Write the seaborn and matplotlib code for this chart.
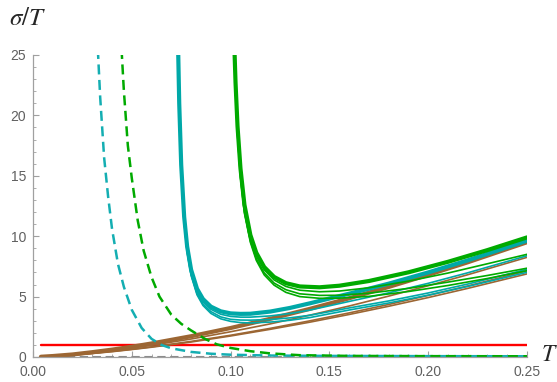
import matplotlib
matplotlib.use("Agg")
import matplotlib.pyplot as plt
import seaborn as sns
from matplotlib.ticker import MultipleLocator

# valores (sigma/T contra T)
T_marrom = [0.004, 0.01, 0.02, 0.03, 0.04, 0.05, 0.06, 0.08, 0.10, 0.12, 0.14, 0.16, 0.18, 0.20, 0.22, 0.25]
marrom_1 = [0.02, 0.08, 0.21, 0.40, 0.61, 0.85, 1.12, 1.72, 2.40, 3.16, 3.98, 4.86, 5.80, 6.80, 7.84, 9.50]
marrom_2 = [0.02, 0.07, 0.19, 0.34, 0.53, 0.74, 0.97, 1.49, 2.09, 2.74, 3.46, 4.22, 5.04, 5.90, 6.81, 8.25]
marrom_3 = [0.01, 0.06, 0.16, 0.30, 0.46, 0.64, 0.84, 1.29, 1.80, 2.37, 2.99, 3.65, 4.35, 5.10, 5.88, 7.13]
marrom_4 = [0.01, 0.06, 0.16, 0.29, 0.44, 0.62, 0.81, 1.24, 1.74, 2.29, 2.88, 3.52, 4.20, 4.92, 5.68, 6.88]

T_ciano = [0.0734, 0.0740, 0.0750, 0.0765, 0.078, 0.080, 0.083, 0.086, 0.090, 0.095, 0.100,
           0.105, 0.11, 0.12, 0.13, 0.14, 0.16, 0.18, 0.20, 0.22, 0.25]
ciano_1 = [25.9, 21.0, 15.9, 11.6, 9.15, 7.23, 5.65, 4.80, 4.17, 3.78, 3.61,
           3.57, 3.58, 3.76, 4.06, 4.44, 5.24, 6.07, 7.00, 8.00, 9.63]
ciano_2 = [25.7, 20.8, 15.7, 11.4, 8.93, 7.00, 5.43, 4.58, 3.95, 3.54, 3.36,
           3.30, 3.30, 3.40, 3.60, 3.88, 4.60, 5.31, 6.10, 6.97, 8.38]
ciano_3 = [25.5, 20.7, 15.5, 11.2, 8.73, 6.82, 5.24, 4.40, 3.76, 3.32, 3.12,
           3.06, 3.05, 3.10, 3.24, 3.45, 4.06, 4.64, 5.30, 6.04, 7.26]
ciano_4 = [25.5, 20.6, 15.4, 11.2, 8.69, 6.75, 5.15, 4.27, 3.61, 3.16, 2.95,
           2.85, 2.82, 2.89, 3.04, 3.26, 3.89, 4.47, 5.12, 5.84, 7.01]

T_verde = [0.1018, 0.1025, 0.1035, 0.105, 0.107, 0.110, 0.113, 0.117, 0.122, 0.128, 0.135,
           0.145, 0.155, 0.17, 0.19, 0.21, 0.23, 0.25]
verde_1 = [26.2, 22.7, 19.1, 15.6, 12.6, 10.1, 8.63, 7.45, 6.63, 6.11, 5.84,
           5.77, 5.90, 6.29, 7.01, 7.88, 8.85, 9.90]
verde_2 = [25.8, 22.4, 18.8, 15.3, 12.3, 9.85, 8.40, 7.22, 6.38, 5.84, 5.53,
           5.40, 5.46, 5.73, 6.28, 6.95, 7.72, 8.50]
verde_3 = [25.6, 22.1, 18.5, 14.9, 12.0, 9.60, 8.15, 6.97, 6.12, 5.57, 5.23,
           5.10, 5.11, 5.28, 5.68, 6.20, 6.75, 7.35]
verde_4 = [25.5, 22.0, 18.4, 14.9, 11.9, 9.50, 8.00, 6.80, 5.95, 5.35, 5.00,
           4.86, 4.87, 5.02, 5.42, 5.92, 6.50, 7.15]

T_ciano_tr = [0.0328, 0.034, 0.036, 0.038, 0.040, 0.043, 0.046, 0.050, 0.055, 0.060, 0.065,
              0.070, 0.080, 0.090, 0.10, 0.12, 0.15, 0.20, 0.25]
ciano_tr = [25.5, 21.5, 16.5, 13.3, 10.6, 7.7, 5.8, 3.9, 2.4, 1.5, 1.0,
            0.72, 0.42, 0.27, 0.19, 0.12, 0.09, 0.07, 0.06]

T_verde_tr = [0.0448, 0.046, 0.048, 0.050, 0.053, 0.056, 0.060, 0.064, 0.070, 0.075, 0.080,
              0.087, 0.093, 0.100, 0.110, 0.120, 0.135, 0.16, 0.20, 0.25]
verde_tr = [25.5, 22.0, 17.5, 14.8, 11.3, 8.8, 6.6, 5.0, 3.5, 2.75, 2.2,
            1.5, 1.05, 0.75, 0.48, 0.30, 0.15, 0.09, 0.07, 0.06]

T_limites = [0.004, 0.25]
linha_vermelha = [1.0, 1.0]
linha_cinza = [0.03, 0.03]

COR_MARROM = '#9c6633'
COR_CIANO = '#00a8a8'
COR_VERDE = '#00aa00'
TRACEJADO = (0, (4, 2.2))

sns.set_theme(style="white")
plt.rcParams['font.family'] = ['Liberation Sans', 'DejaVu Sans']
plt.rcParams['mathtext.fontset'] = 'stix'

fig, ax = plt.subplots(figsize=(5.57, 3.82), dpi=100)
fig.subplots_adjust(left=33/557, right=527/557, bottom=1-357/382, top=1-55/382)

sns.lineplot(x=T_limites, y=linha_vermelha, ax=ax, color='#ff0000', linewidth=1.7)
sns.lineplot(x=T_limites, y=linha_cinza, ax=ax, color='#8a8a8a', linewidth=1.5, linestyle=TRACEJADO)

larguras = [3.0, 1.2, 1.2, 1.2]
for serie, lw in zip([marrom_1, marrom_2, marrom_3, marrom_4], larguras):
    sns.lineplot(x=T_marrom, y=serie, ax=ax, color=COR_MARROM, linewidth=lw)
for serie, lw in zip([ciano_1, ciano_2, ciano_3, ciano_4], larguras):
    sns.lineplot(x=T_ciano, y=serie, ax=ax, color=COR_CIANO, linewidth=lw)
for serie, lw in zip([verde_1, verde_2, verde_3, verde_4], larguras):
    sns.lineplot(x=T_verde, y=serie, ax=ax, color=COR_VERDE, linewidth=lw)

sns.lineplot(x=T_ciano_tr, y=ciano_tr, ax=ax, color='#14aeb2', linewidth=1.8, linestyle=TRACEJADO)
sns.lineplot(x=T_verde_tr, y=verde_tr, ax=ax, color=COR_VERDE, linewidth=1.8, linestyle=TRACEJADO)

ax.set_xlim(0, 0.25)
ax.set_ylim(0, 25)
ax.xaxis.set_major_locator(MultipleLocator(0.05))
ax.xaxis.set_minor_locator(MultipleLocator(0.01))
ax.yaxis.set_major_locator(MultipleLocator(5))
ax.yaxis.set_minor_locator(MultipleLocator(1))
ax.xaxis.set_major_formatter(plt.FuncFormatter(lambda v, p: f'{v:.2f}'))

for lado in ['top', 'right']:
    ax.spines[lado].set_visible(False)
for lado in ['left', 'bottom']:
    ax.spines[lado].set_color('#a0a0a0')
    ax.spines[lado].set_linewidth(0.9)

ax.tick_params(which='both', direction='in', color='#a0a0a0', labelcolor='#606060',
               labelsize=10, bottom=True, left=True)
ax.tick_params(which='major', length=4.5, width=0.8)
ax.tick_params(which='minor', length=2.5, width=0.6)
ax.tick_params(axis='x', which='major', pad=6)
ax.tick_params(axis='y', which='major', pad=5)
ax.grid(False)
ax.set_xlabel('')
ax.set_ylabel('')

fig.text(9/557, 1-18/382, r'$\sigma/T$', fontsize=18, va='center', ha='left')
fig.text(541/557, 1-355/382, r'$T$', fontsize=17, va='center', ha='left')

plt.savefig('out.png', dpi=100)
plt.close()
